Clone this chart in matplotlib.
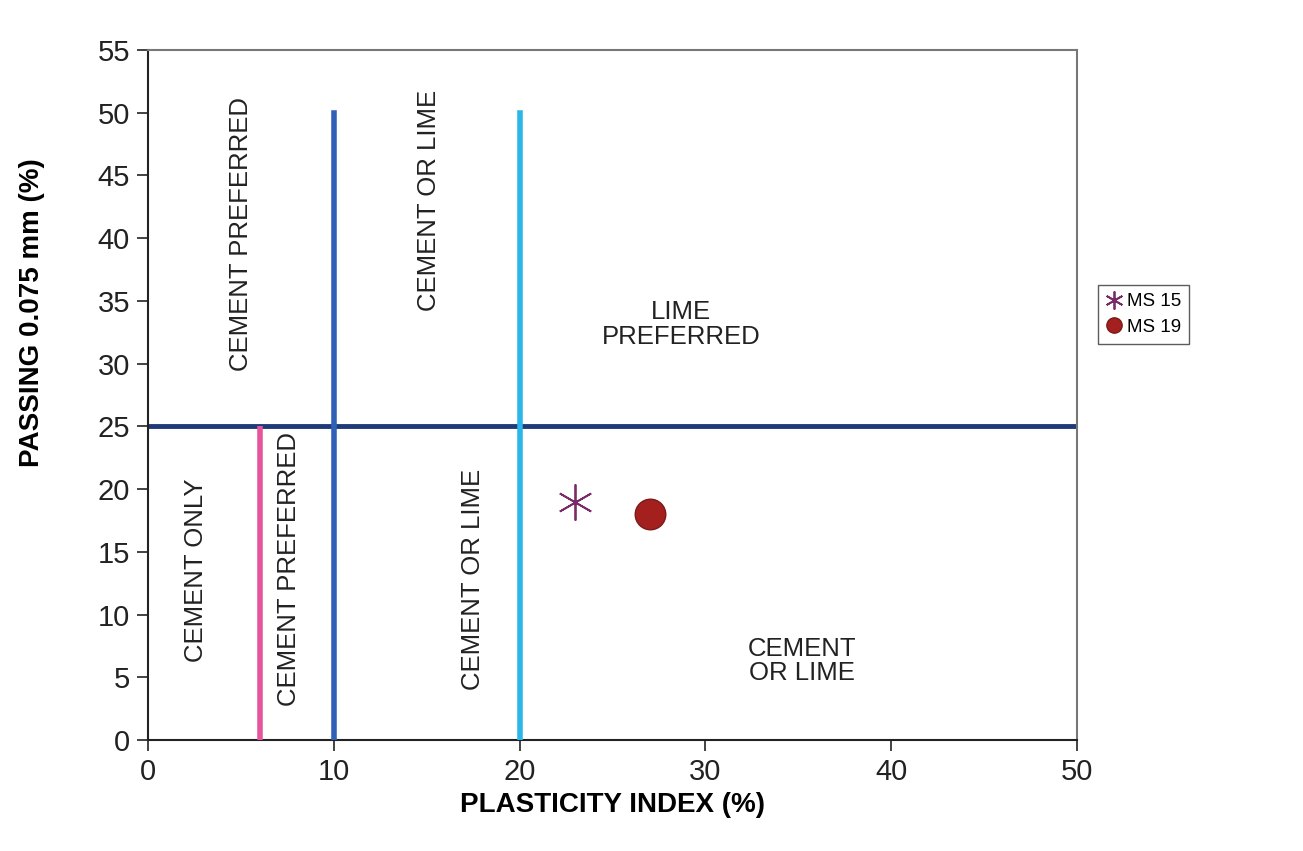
import matplotlib
matplotlib.use("Agg")
import matplotlib.pyplot as plt

plt.rcParams['font.family'] = ['Liberation Sans', 'DejaVu Sans']

# boundary lines (x values, y ranges)
pink_x = [6, 6]
pink_y = [0, 25]
blue_x = [10, 10]
blue_y = [0, 50]
light_x = [20, 20]
light_y = [0, 50]
horiz_x = [0, 50]
horiz_y = [25, 25]

# samples
ms15 = (23, 19)
ms19 = (27, 18)

# region labels: text, x, y, rotation
regions = [
	("CEMENT PREFERRED", 5.0, 40.3, 90),
	("CEMENT OR LIME", 15.1, 43.0, 90),
	("LIME\nPREFERRED", 28.7, 33.1, 0),
	("CEMENT ONLY", 2.6, 13.5, 90),
	("CEMENT PREFERRED", 7.6, 13.6, 90),
	("CEMENT OR LIME", 17.5, 12.8, 90),
	("CEMENT\nOR LIME", 35.2, 6.3, 0),
]

fig = plt.figure(figsize=(13.03, 8.51), dpi=100)
ax = fig.add_axes([0.1136, 0.1304, 0.713, 0.8108])

ax.plot(horiz_x, horiz_y, color='#1f3a78', lw=3.5, zorder=2)
ax.plot(pink_x, pink_y, color='#e6559b', lw=4, solid_capstyle='butt', zorder=3)
ax.plot(blue_x, blue_y, color='#2f62b5', lw=4, zorder=3)
ax.plot(light_x, light_y, color='#2bb6ea', lw=4, zorder=3)

ax.plot([ms15[0]], [ms15[1]], linestyle='none', marker=(6, 2, 0), markersize=26,
	markeredgecolor='#7a2a66', markeredgewidth=1.3, label='MS 15', zorder=4)
ax.plot([ms19[0]], [ms19[1]], linestyle='none', marker='o', markersize=22,
	markerfacecolor='#a3201f', markeredgecolor='#7a1a1a', label='MS 19', zorder=4)

for text, x, y, rot in regions:
	ax.text(x, y, text, rotation=rot, ha='center', va='center', fontsize=18.5,
		color='#222222', linespacing=1.05)

ax.set_xlim(0, 50)
ax.set_ylim(0, 55)
ax.set_xticks([0, 10, 20, 30, 40, 50])
ax.set_yticks(range(0, 56, 5))
ax.tick_params(axis='both', labelsize=21, direction='out', length=8, width=1.2,
	colors='#222222', pad=5)
ax.tick_params(top=False, right=False)
ax.set_xlabel("PLASTICITY INDEX (%)", fontsize=20, fontweight='bold', va='center')
ax.set_ylabel("PASSING 0.075 mm (%)", fontsize=20, fontweight='bold', va='center')
ax.xaxis.set_label_coords(0.5, -0.094)
ax.yaxis.set_label_coords(-0.125, 0.62)

for side in ['left', 'bottom']:
	ax.spines[side].set_color('#222222')
	ax.spines[side].set_linewidth(1.5)
for side in ['top', 'right']:
	ax.spines[side].set_color('#777777')
	ax.spines[side].set_linewidth(1.5)

leg = ax.legend(loc='center left', bbox_to_anchor=(1.012, 0.617), fontsize=13.5,
	frameon=True, fancybox=False, edgecolor='#333333', markerscale=0.5,
	handlelength=0.8, handletextpad=0.3, borderpad=0.45, labelspacing=0.45)
leg.get_frame().set_linewidth(1.0)

fig.savefig("out.png", dpi=100)
